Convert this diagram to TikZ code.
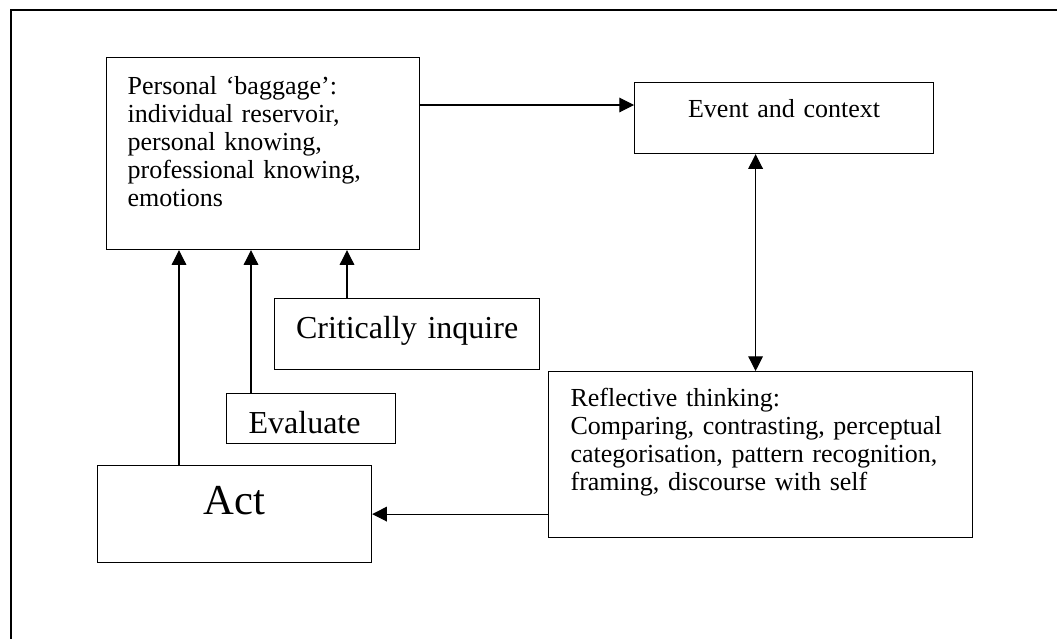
\documentclass[tikz,border=0pt]{standalone}
\usepackage{fontspec}
\setmainfont{Liberation Serif}
\usetikzlibrary{arrows.meta}

\tikzset{
  box/.style={draw,line width=0.9pt,anchor=north west,inner ysep=0pt},
  link/.style={line width=0.8pt,->},
  bodytext/.style={font=\fontsize{19.5}{21}\selectfont},
}

\begin{document}
\begin{tikzpicture}[x=0.75pt,y=-0.75pt,>={Triangle[length=11pt,width=11pt]}]
  \useasboundingbox (0,0) rectangle (1057,639);
  \draw[line width=1.6pt] (11,660) -- (11,10) -- (1080,10);

  % the boxes
  \node[box,bodytext,align=left,inner xsep=15.75pt,text width=203.25pt,
    text height=27.75pt,text depth=116.25pt] (baggage) at (106,57)
    {Personal ‘baggage’:\\individual reservoir,\\personal knowing,\\professional knowing,\\emotions};
  \node[box,bodytext,align=center,inner xsep=0pt,text width=224.25pt,
    text height=26.25pt,text depth=27pt] (event) at (634,82) {Event and context};
  \node[box,bodytext,align=left,inner xsep=16.5pt,text width=285pt,
    text height=26.25pt,text depth=98.25pt] (reflective) at (548,371)
    {Reflective thinking:\\Comparing, contrasting, perceptual\\categorisation, pattern recognition,\\framing, discourse with self};
  \node[box,font=\fontsize{24}{28}\selectfont,align=center,inner xsep=0pt,text width=198.75pt,
    text height=30pt,text depth=23.25pt] (critical) at (274,298) {Critically inquire};
  \node[box,font=\fontsize{24}{28}\selectfont,align=left,inner xsep=16.5pt,text width=93.75pt,
    text height=30pt,text depth=7.5pt] (evaluate) at (226,393) {Evaluate};
  \node[box,font=\fontsize{32}{38}\selectfont,align=center,inner xsep=0pt,text width=205.5pt,
    text height=37pt,text depth=35.75pt] (act) at (97,465) {Act};

  % connectors
  \draw[link] ([yshift=-36pt]baggage.north east) coordinate (bagout) -- (bagout -| event.west);
  \draw[link,<->] ([xshift=-3.75pt]event.south -| reflective.north) -- ([xshift=-3.75pt]reflective.north);
  \draw[link] (act.east -| reflective.west) -- (act.east);
  \draw[link] ([xshift=61.5pt]act.north west) coordinate (actout) -- (actout |- baggage.south);
  \draw[link] ([xshift=18.75pt]evaluate.north west) coordinate (evalout) -- (evalout |- baggage.south);
  \draw[link] ([xshift=54.75pt]critical.north west) coordinate (critout) -- (critout |- baggage.south);
\end{tikzpicture}
\end{document}
